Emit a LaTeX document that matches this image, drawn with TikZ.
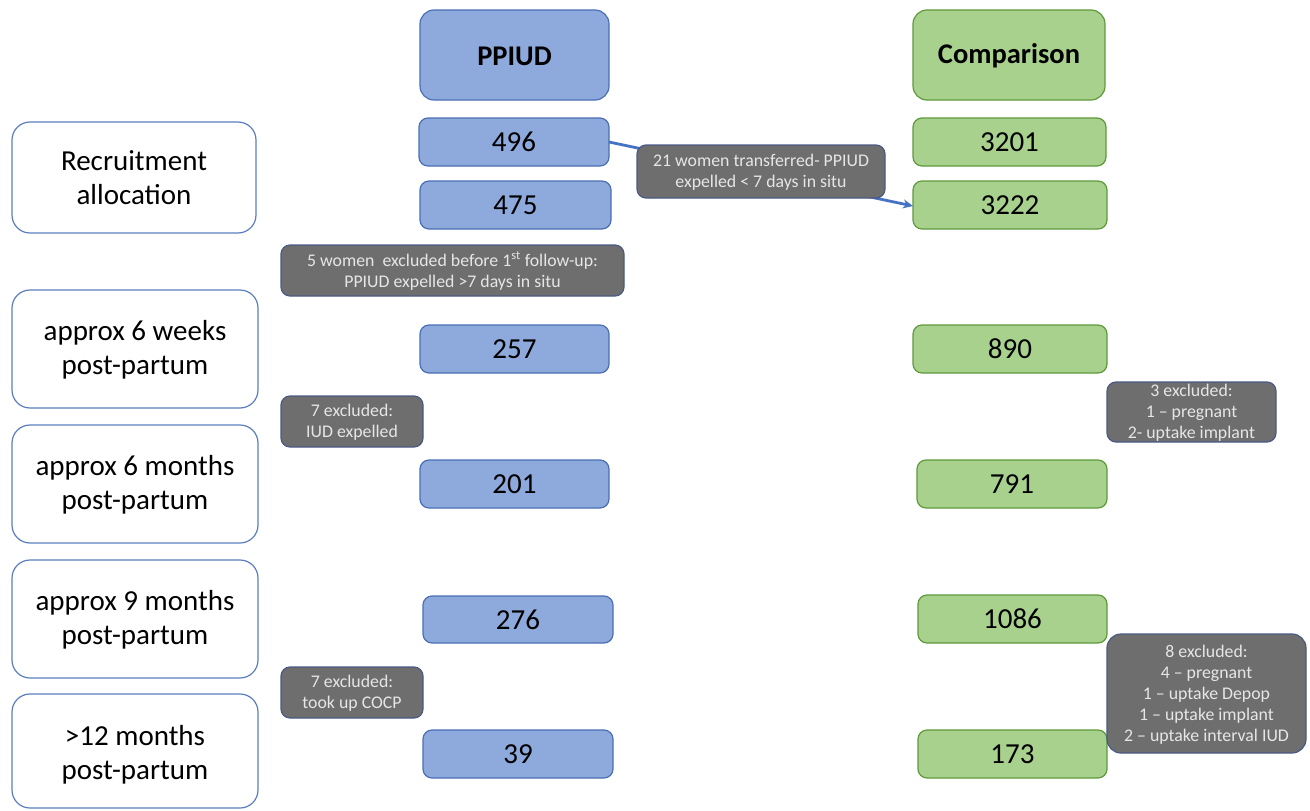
\documentclass[tikz,border=0pt]{standalone}
\usepackage{fontspec}
\setmainfont{Carlito}
\usetikzlibrary{arrows.meta}
\definecolor{bfill}{HTML}{8EA9DB}
\definecolor{bline}{HTML}{4A6FB5}
\definecolor{gfill}{HTML}{A9D18E}
\definecolor{gline}{HTML}{5E9A3A}
\definecolor{grfill}{HTML}{6E6E6E}
\definecolor{grline}{HTML}{4A5A84}
\definecolor{lline}{HTML}{5A7EC0}
\definecolor{arr}{HTML}{4472C4}
\definecolor{gtext}{HTML}{E6E6E6}
\begin{document}
\begin{tikzpicture}[x=1pt,y=-1pt,
  base/.style={rounded corners=9pt,line width=1.2pt},
  bbox/.style={base,draw=bline,fill=bfill},
  gbox/.style={base,draw=gline,fill=gfill},
  lbox/.style={base,rounded corners=18pt,draw=lline,fill=white},
  xbox/.style={base,draw=grline,fill=grfill},
  hdr/.style={font=\fontsize{28.5}{32}\selectfont\bfseries},
  num/.style={font=\fontsize{29}{32}\selectfont},
  lab/.style={font=\fontsize{29}{34}\selectfont,align=center},
  gt/.style={text=gtext,font=\fontsize{17.8}{21}\selectfont,align=center},
]
\useasboundingbox (0,0) rectangle (1310,811);
% headers
\draw[bbox,rounded corners=14pt] (420,10) rectangle (609,100);
\node[hdr] (hp) at (514.5,56) {PPIUD};
\draw[gbox,rounded corners=14pt] (913,10) rectangle (1105,100);
\node[hdr] (hc) at (1009,56) {Comparison};
% left labels
\draw[lbox] (12,122) rectangle (256,233); \node[lab] (l1) at (134,178) {Recruitment\\allocation};
\draw[lbox] (12,290) rectangle (258,408); \node[lab] (l2) at (135,350) {approx 6 weeks\\post-partum};
\draw[lbox] (12,425) rectangle (258,543); \node[lab] (l3) at (135,485) {approx 6 months\\post-partum};
\draw[lbox] (12,560) rectangle (258,678); \node[lab] (l4) at (135,620) {approx 9 months\\post-partum};
\draw[lbox] (12,694) rectangle (258,808); \node[lab] (l5) at (135,755) {>12 months\\post-partum};
% PPIUD numbers
\draw[bbox] (419,118) rectangle (609,166); \node[num] (p1) at (514,142) {496};
\draw[bbox] (420,181) rectangle (611,229); \node[num] (p2) at (515.5,205) {475};
\draw[bbox] (420,325) rectangle (609,373); \node[num] (p3) at (514.5,349) {257};
\draw[bbox] (420,460) rectangle (609,508); \node[num] (p4) at (514.5,484) {201};
\draw[bbox] (423,596) rectangle (613,643); \node[num] (p5) at (518,619.5) {276};
\draw[bbox] (423,730) rectangle (613,778); \node[num] (p6) at (518,754) {39};
% Comparison numbers
\draw[gbox] (913,118) rectangle (1106,166); \node[num] (c1) at (1009.5,142) {3201};
\draw[gbox] (913,181) rectangle (1107,229); \node[num] (c2) at (1010,205) {3222};
\draw[gbox] (913,325) rectangle (1107,373); \node[num] (c3) at (1010,349) {890};
\draw[gbox] (917,460) rectangle (1107,508); \node[num] (c4) at (1012,484) {791};
\draw[gbox] (918,595) rectangle (1107,643); \node[num] (c5) at (1012.5,619) {1086};
\draw[gbox] (918,730) rectangle (1107,778); \node[num] (c6) at (1012.5,754) {173};
% arrow (behind gray box)
\coordinate (a1) at (609,142);
\coordinate (a2) at (913,206);
\draw[arr,line width=2.8pt,-{Stealth[length=10pt,width=9pt]}] (a1) -- (a2);
% gray boxes
\draw[xbox] (637,145) rectangle (885,198); \node[gt] (g1) at (761,172) {21 women transferred- PPIUD\\expelled < 7 days in situ};
\draw[xbox] (281,245) rectangle (624,296); \node[gt] (g2) at (452.5,271) {5 women\ \ excluded before 1\textsuperscript{st} follow-up:\\PPIUD expelled >7 days in situ};
\draw[xbox] (281,396) rectangle (423,447); \node[gt] (g3) at (352,422) {7 excluded:\\IUD expelled};
\draw[xbox] (1107,382) rectangle (1276,442); \node[gt] (g4) at (1191.5,413) {3 excluded:\\1 -- pregnant\\2- uptake implant};
\draw[xbox] (281,667) rectangle (423,718); \node[gt] (g5) at (352,693) {7 excluded:\\took up COCP};
\draw[xbox,rounded corners=14pt] (1107,634) rectangle (1306,753); \node[gt] (g6) at (1206.5,694.5) {8 excluded:\\4 -- pregnant\\1 -- uptake Depop\\1 -- uptake implant\\2 -- uptake interval IUD};
\end{tikzpicture}
\end{document}
